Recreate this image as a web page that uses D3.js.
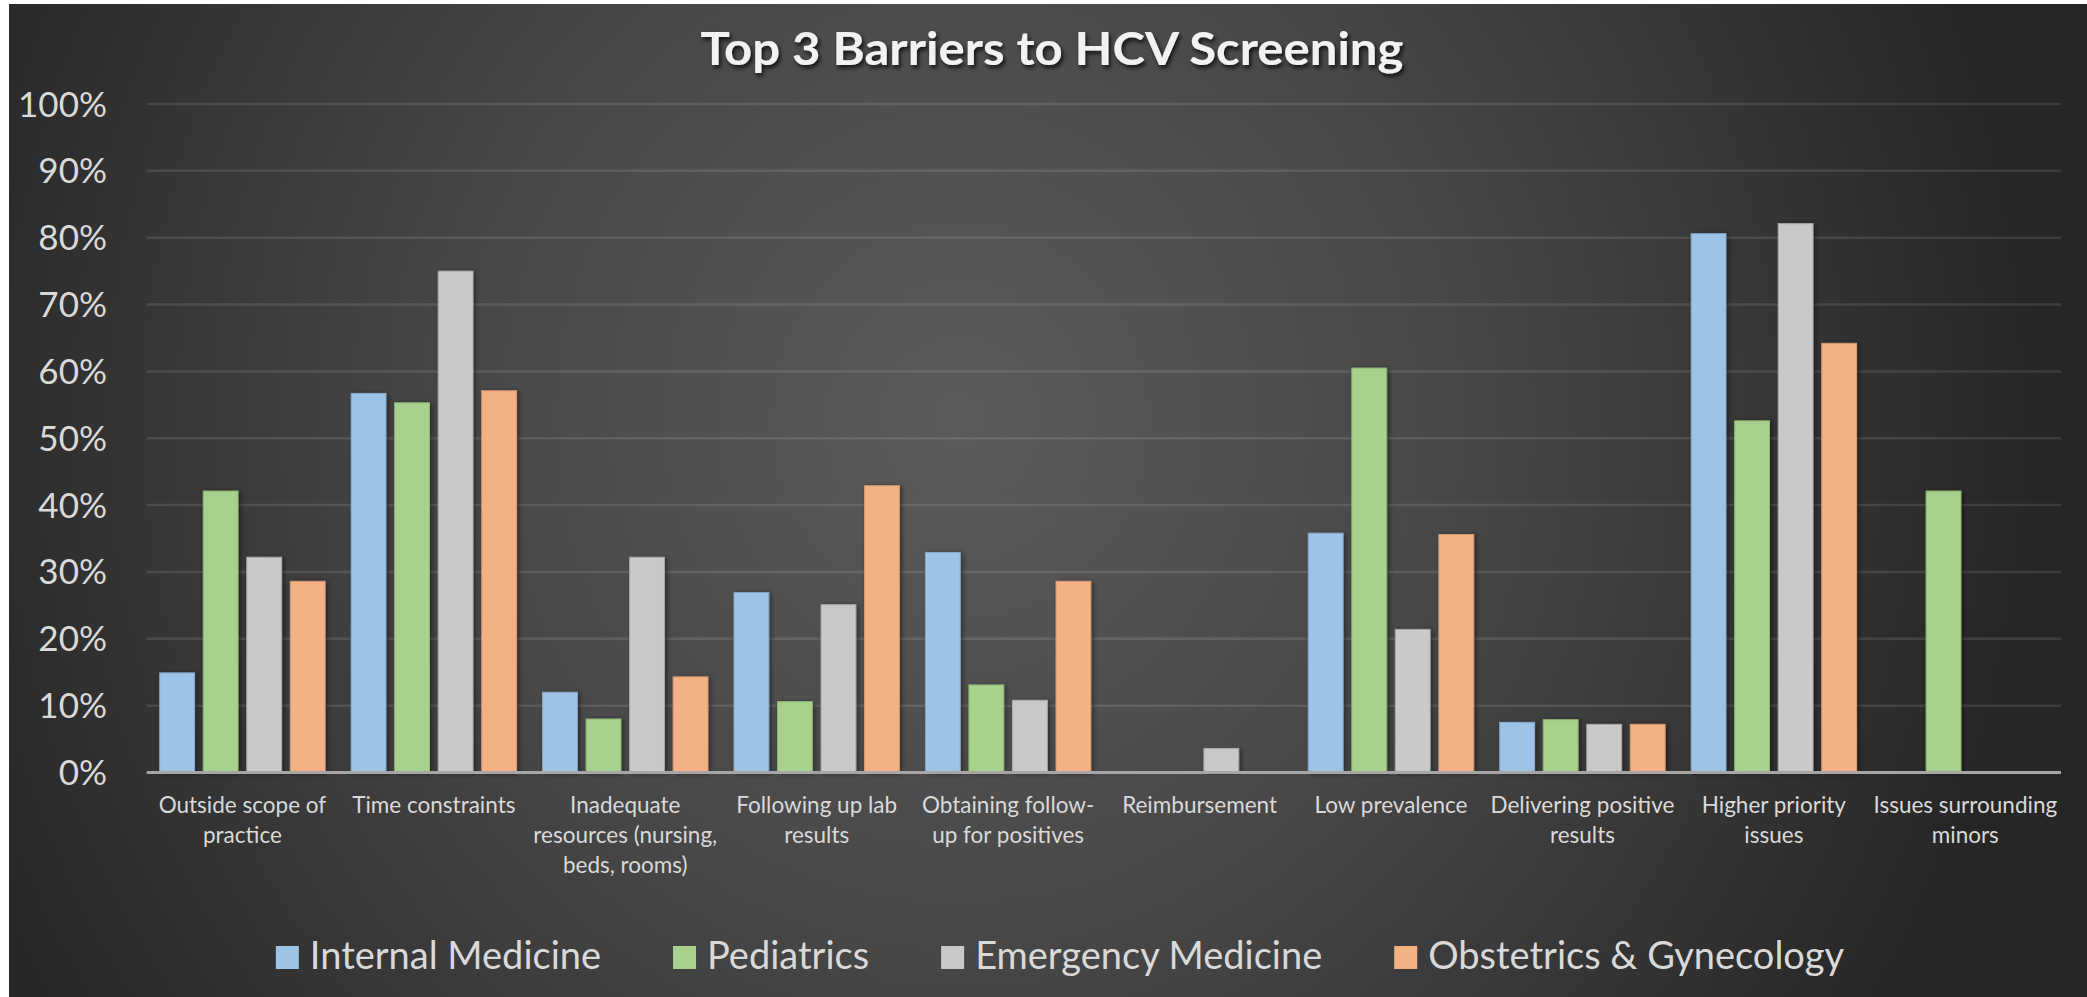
<!DOCTYPE html>
<html>
<head>
<meta charset="utf-8">
<script src="https://cdn.jsdelivr.net/npm/d3@7"></script>
<style>
  html, body { margin: 0; padding: 0; background: #ffffff; overflow: hidden; }
  svg { display: block; }
</style>
</head>
<body>
<div id="vis"></div>
<script>
// categories (line breaks follow the wrapped labels)
var categories = [
  'Outside scope of\npractice',
  'Time constraints',
  'Inadequate\nresources (nursing,\nbeds, rooms)',
  'Following up lab\nresults',
  'Obtaining follow-\nup for positives',
  'Reimbursement',
  'Low prevalence',
  'Delivering positive\nresults',
  'Higher priority\nissues',
  'Issues surrounding\nminors'
];

var seriesNames = ['Internal Medicine', 'Pediatrics', 'Emergency Medicine', 'Obstetrics & Gynecology'];

// percent of respondents
var internalMedicine = [14.9, 56.7, 12.0, 26.9, 32.9, 0, 35.8, 7.5, 80.6, 0];
var pediatrics = [42.1, 55.3, 8.0, 10.6, 13.1, 0, 60.5, 7.9, 52.6, 42.1];
var emergencyMedicine = [32.2, 75.0, 32.2, 25.1, 10.8, 3.6, 21.4, 7.2, 82.1, 0];
var obGyn = [28.6, 57.1, 14.3, 42.9, 28.6, 0, 35.6, 7.2, 64.2, 0];

var yTicks = [0, 10, 20, 30, 40, 50, 60, 70, 80, 90, 100];

var seriesValues = [internalMedicine, pediatrics, emergencyMedicine, obGyn];
var barColors = ['#9dc3e6', '#a9d18e', '#c9c9c9', '#f4b183'];
var barEdges = ['#86a9c9', '#8fb776', '#a9a9a9', '#d49a72'];

// size of the page and the plot area
var width = 2087;
var height = 997;
var margin = { top: 104, left: 146.7, bottom: 224.5, right: 26 };
var font = 'Lato, "Open Sans", sans-serif';
var textColor = '#d9d9d9';

var svg = d3.select('#vis')
  .append('svg')
  .attr('width', width)
  .attr('height', height);

var defs = svg.append('defs');

// background glow: lighter in the middle, dark at the edges
var bgGrad = defs.append('radialGradient')
  .attr('id', 'bg')
  .attr('gradientUnits', 'userSpaceOnUse')
  .attr('cx', 960).attr('cy', 420).attr('r', 1080)
  .attr('gradientTransform', 'translate(960,420) scale(1,1.05) translate(-960,-420)');
bgGrad.append('stop').attr('offset', '0%').attr('stop-color', '#5a5a5a');
bgGrad.append('stop').attr('offset', '45%').attr('stop-color', '#484848');
bgGrad.append('stop').attr('offset', '100%').attr('stop-color', '#262626');

var barShadow = defs.append('filter')
  .attr('id', 'barShadow')
  .attr('x', '-20%').attr('y', '-5%').attr('width', '150%').attr('height', '115%');
barShadow.append('feDropShadow')
  .attr('dx', 2).attr('dy', 1).attr('stdDeviation', 2.5)
  .attr('flood-color', '#000').attr('flood-opacity', 0.45);

var titleShadow = defs.append('filter')
  .attr('id', 'titleShadow')
  .attr('x', '-5%').attr('y', '-30%').attr('width', '110%').attr('height', '160%');
titleShadow.append('feDropShadow')
  .attr('dx', 2).attr('dy', 3).attr('stdDeviation', 2)
  .attr('flood-color', '#000').attr('flood-opacity', 0.75);

svg.append('rect')
  .attr('x', 9).attr('y', 4)
  .attr('width', width - 9).attr('height', height - 4)
  .attr('fill', 'url(#bg)');

// scales
var x0 = d3.scaleBand()
  .domain(d3.range(categories.length))
  .range([margin.left, width - margin.right])
  .paddingInner(0.136)
  .paddingOuter(0.068);

var x1 = d3.scaleBand()
  .domain(d3.range(seriesNames.length))
  .range([0, x0.bandwidth()])
  .paddingInner(0.2);

var y = d3.scaleLinear()
  .domain([0, 100])
  .range([height - margin.bottom, margin.top]);

// gridlines
svg.append('g')
  .selectAll('line')
  .data(yTicks.slice(1))
  .enter()
  .append('line')
  .attr('x1', margin.left)
  .attr('x2', width - margin.right)
  .attr('y1', function (d) { return y(d); })
  .attr('y2', function (d) { return y(d); })
  .attr('stroke', 'rgba(255,255,255,0.11)')
  .attr('stroke-width', 2.5);

// y axis labels
svg.append('g')
  .selectAll('text')
  .data(yTicks)
  .enter()
  .append('text')
  .attr('x', 107)
  .attr('y', function (d) { return y(d) + 12.5; })
  .attr('text-anchor', 'end')
  .attr('font-family', font)
  .attr('font-size', 35)
  .attr('fill', textColor)
  .text(function (d) { return d + '%'; });

// bars
var groups = svg.append('g')
  .selectAll('g')
  .data(categories)
  .enter()
  .append('g')
  .attr('transform', function (d, i) { return 'translate(' + x0(i) + ',0)'; });

groups.selectAll('rect')
  .data(function (d, i) {
    return seriesValues.map(function (s, k) { return { k: k, v: s[i] }; })
      .filter(function (e) { return e.v > 0; });
  })
  .enter()
  .append('rect')
  .attr('x', function (d) { return x1(d.k); })
  .attr('y', function (d) { return y(d.v); })
  .attr('width', x1.bandwidth())
  .attr('height', function (d) { return y(0) - y(d.v); })
  .attr('fill', function (d) { return barColors[d.k]; })
  .attr('stroke', function (d) { return barEdges[d.k]; })
  .attr('stroke-width', 1)
  .attr('filter', 'url(#barShadow)');

// x axis line
svg.append('line')
  .attr('x1', margin.left)
  .attr('x2', width - margin.right)
  .attr('y1', y(0))
  .attr('y2', y(0))
  .attr('stroke', '#a6a6a6')
  .attr('stroke-width', 3);

// category labels
var catLabels = svg.append('g')
  .selectAll('text')
  .data(categories)
  .enter()
  .append('text')
  .attr('text-anchor', 'middle')
  .attr('font-family', font)
  .attr('font-size', 22.5)
  .attr('fill', textColor)
  .attr('transform', function (d, i) {
    return 'translate(' + (x0(i) + x0.bandwidth() / 2) + ',813)';
  });

catLabels.selectAll('tspan')
  .data(function (d) { return d.split('\n'); })
  .enter()
  .append('tspan')
  .attr('x', 0)
  .attr('y', function (d, i) { return i * 30; })
  .text(function (d) { return d; });

// title, stretched a little to the width of the original
svg.append('text')
  .attr('x', 1052)
  .attr('y', 65)
  .attr('text-anchor', 'middle')
  .attr('font-family', font)
  .attr('font-weight', 'bold')
  .attr('font-size', 45)
  .attr('textLength', 703)
  .attr('lengthAdjust', 'spacingAndGlyphs')
  .attr('fill', '#f2f2f2')
  .attr('filter', 'url(#titleShadow)')
  .text('Top 3 Barriers to HCV Screening');

// legend, laid out left to right then centred
var legend = svg.append('g');
var swatch = 23;
var cursor = 0;
seriesNames.forEach(function (name, k) {
  var item = legend.append('g').attr('transform', 'translate(' + cursor + ',0)');
  item.append('rect')
    .attr('x', 0).attr('y', 946)
    .attr('width', swatch).attr('height', 23)
    .attr('fill', barColors[k]);
  var t = item.append('text')
    .attr('x', swatch + 11)
    .attr('y', 969)
    .attr('font-family', font)
    .attr('font-size', 38)
    .attr('fill', textColor)
    .text(name);
  cursor += swatch + 11 + t.node().getComputedTextLength() + 72;
});
var legendWidth = cursor - 72;
legend.attr('transform', 'translate(' + (1060 - legendWidth / 2) + ',0)');
</script>
</body>
</html>
